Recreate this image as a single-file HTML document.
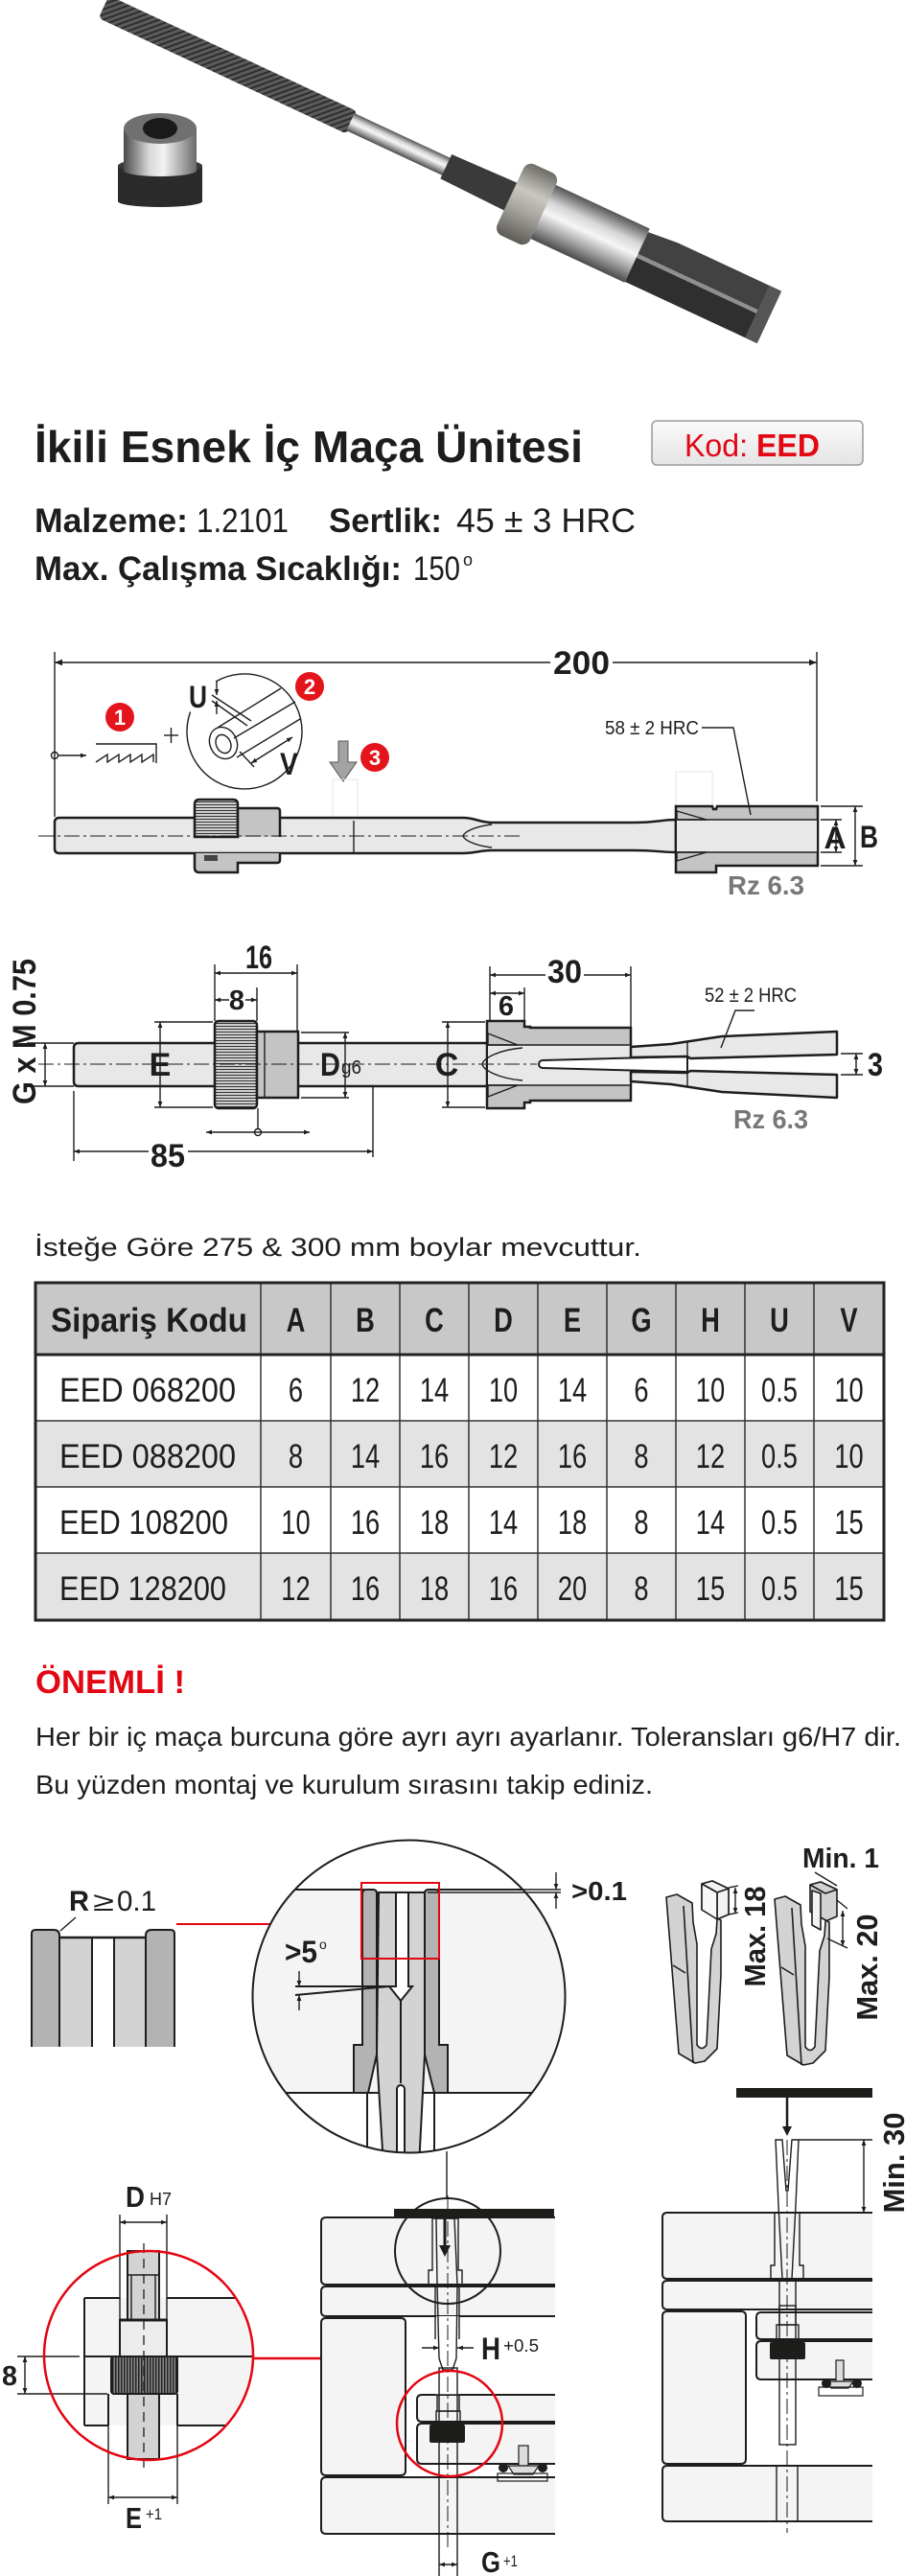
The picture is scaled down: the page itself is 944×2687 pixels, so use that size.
<!DOCTYPE html>
<html><head><meta charset="utf-8">
<style>
html,body{margin:0;padding:0;background:#fff;}
svg{display:block;}
text{font-family:"Liberation Sans","DejaVu Sans",sans-serif;fill:#1d1d1b;}
.t{stroke:#1d1d1b;stroke-width:1.4;fill:none}
.k{stroke:#1d1d1b;stroke-width:2.5}
.m{stroke:#1d1d1b;stroke-width:2}
.c{stroke:#1d1d1b;stroke-width:1;fill:none;stroke-dasharray:16 4 3 4}
.b{font-weight:700}
</style></head><body>
<svg width="944" height="2687" viewBox="0 0 944 2687" xmlns="http://www.w3.org/2000/svg">
<defs>
<marker id="a" viewBox="0 0 10 10" refX="10" refY="5" markerWidth="8" markerHeight="8" markerUnits="userSpaceOnUse" orient="auto-start-reverse"><path d="M0,1 L10,5 L0,9 z" fill="#1d1d1b"/></marker>
<marker id="as" viewBox="0 0 10 10" refX="10" refY="5" markerWidth="6" markerHeight="6" markerUnits="userSpaceOnUse" orient="auto-start-reverse"><path d="M0,1 L10,5 L0,9 z" fill="#1d1d1b"/></marker>
<pattern id="pk" width="5" height="5" patternUnits="userSpaceOnUse" patternTransform="rotate(45)"><rect width="5" height="5" fill="#5c5c5c"/><rect width="2" height="5" fill="#2e2e2e"/></pattern>
<pattern id="kh" width="4" height="3" patternUnits="userSpaceOnUse"><rect width="4" height="3" fill="#cfcfcf"/><rect y="2" width="4" height="1" fill="#333"/></pattern>
<pattern id="kv" width="3" height="4" patternUnits="userSpaceOnUse"><rect width="3" height="4" fill="#8a8a8a"/><rect x="0" width="1.5" height="4" fill="#222"/></pattern>
<linearGradient id="gs" x1="0" y1="0" x2="0" y2="1"><stop offset="0" stop-color="#555"/><stop offset="0.3" stop-color="#d6d6d6"/><stop offset="0.5" stop-color="#f6f6f6"/><stop offset="0.78" stop-color="#9a9a9a"/><stop offset="1" stop-color="#4a4a4a"/></linearGradient>
<linearGradient id="gr" x1="0" y1="0" x2="0" y2="1"><stop offset="0" stop-color="#6d6b66"/><stop offset="0.35" stop-color="#c9c7c0"/><stop offset="0.6" stop-color="#a8a69f"/><stop offset="1" stop-color="#5d5b57"/></linearGradient>
<linearGradient id="gn" x1="0" y1="0" x2="1" y2="0"><stop offset="0" stop-color="#4a4a4a"/><stop offset="0.35" stop-color="#d8d8d8"/><stop offset="0.55" stop-color="#f2f2f2"/><stop offset="1" stop-color="#6a6a6a"/></linearGradient>
<linearGradient id="kg" x1="0" y1="0" x2="0" y2="1"><stop offset="0" stop-color="#fbfbfb"/><stop offset="1" stop-color="#e4e4e4"/></linearGradient>
<clipPath id="cb"><circle cx="426.5" cy="2082.5" r="163"/></clipPath>
<clipPath id="cr"><circle cx="155" cy="2457" r="109"/></clipPath>
</defs>
<rect width="944" height="2687" fill="#fff"/>

<!-- ===== PHOTO ===== -->
<g transform="translate(110,8) rotate(25)">
 <rect x="-2" y="-13" width="286" height="26" rx="5" fill="url(#pk)"/>
 <rect x="282" y="-10" width="112" height="20" fill="url(#gs)"/>
 <path d="M392 -14 L470 -16 L470 16 L392 14 Z" fill="#3a3a3a"/>
 <rect x="500" y="-31" width="112" height="62" fill="url(#gs)"/>
 <rect x="466" y="-41" width="38" height="82" rx="9" fill="url(#gr)"/>
 <path d="M612 -27 L645 -30 L764 -30 L764 -2 L612 -2 Z" fill="#424242"/>
 <path d="M612 2 L764 2 L764 30 L612 30 Z" fill="#2f2f2f"/>
 <rect x="612" y="-2" width="152" height="4" fill="#8f8f8f"/>
 <rect x="750" y="-30" width="14" height="60" fill="#565656"/>
</g>
<!-- nut -->
<rect x="123" y="172" width="88" height="38" fill="#2b2b2b"/>
<ellipse cx="167" cy="210" rx="44" ry="6" fill="#2b2b2b"/>
<ellipse cx="167" cy="173" rx="44" ry="8" fill="#3a3a3a"/>
<rect x="129" y="134" width="76" height="44" fill="url(#gn)"/>
<ellipse cx="167" cy="178" rx="38" ry="6" fill="url(#gn)"/>
<ellipse cx="167" cy="134" rx="38" ry="16" fill="#707070"/>
<ellipse cx="167" cy="134" rx="18" ry="11" fill="#1a1a1a"/>

<!-- ===== TITLE ===== -->
<text x="36" y="482" font-size="46" class="b" textLength="572" lengthAdjust="spacingAndGlyphs">İkili Esnek İç Maça Ünitesi</text>
<rect x="680" y="439" width="220" height="46" rx="5" fill="url(#kg)" stroke="#9a9a9a" stroke-width="1.5"/>
<text x="714" y="476" font-size="33" style="fill:#e30613" textLength="66" lengthAdjust="spacingAndGlyphs">Kod:</text>
<text x="789" y="476" font-size="33" class="b" style="fill:#e30613" textLength="66" lengthAdjust="spacingAndGlyphs">EED</text>

<text x="36" y="555" font-size="35" class="b" textLength="160" lengthAdjust="spacingAndGlyphs">Malzeme:</text>
<text x="205" y="555" font-size="35" textLength="96" lengthAdjust="spacingAndGlyphs">1.2101</text>
<text x="343" y="555" font-size="35" class="b" textLength="118" lengthAdjust="spacingAndGlyphs">Sertlik:</text>
<text x="476" y="555" font-size="35" textLength="187" lengthAdjust="spacingAndGlyphs">45 ± 3 HRC</text>
<text x="36" y="605" font-size="35" class="b" textLength="383" lengthAdjust="spacingAndGlyphs">Max. Çalışma Sıcaklığı:</text>
<text x="431" y="605" font-size="35" textLength="49" lengthAdjust="spacingAndGlyphs">150</text>
<text x="483" y="590" font-size="18">o</text>

<!-- ===== DRAWING 1 ===== -->
<line x1="57" y1="680" x2="57" y2="852" class="t"/>
<line x1="852" y1="680" x2="852" y2="836" class="t"/>
<line x1="57" y1="691" x2="574" y2="691" class="t" marker-start="url(#a)"/>
<line x1="639" y1="691" x2="852" y2="691" class="t" marker-end="url(#a)"/>
<text x="577" y="703" font-size="34" class="b" textLength="59" lengthAdjust="spacingAndGlyphs">200</text>

<circle cx="57" cy="788" r="3.5" fill="#fff" class="t"/>
<line x1="61" y1="788" x2="90" y2="788" class="t" marker-end="url(#as)"/>
<polyline points="100,776 163,776 163,796" class="t"/>
<polyline points="100,795 112,787 112,795 124,787 124,795 136,787 136,795 148,787 148,795 160,787 160,795" class="t"/>
<line x1="171" y1="767" x2="186" y2="767" class="t"/><line x1="178.5" y1="759" x2="178.5" y2="775" class="t"/>
<circle cx="125" cy="748" r="15" fill="#e3141b"/><text x="125" y="756" font-size="22" class="b" text-anchor="middle" style="fill:#fff">1</text>
<circle cx="323" cy="716" r="15" fill="#e3141b"/><text x="323" y="724" font-size="22" class="b" text-anchor="middle" style="fill:#fff">2</text>
<circle cx="391" cy="790" r="15" fill="#e3141b"/><text x="391" y="798" font-size="22" class="b" text-anchor="middle" style="fill:#fff">3</text>

<path d="M225 711 A60 60 0 1 1 198.6 742.5" class="t" stroke-width="1.2"/>
<line x1="227" y1="759" x2="293" y2="718" class="t" stroke-width="1.2"/>
<line x1="247" y1="790" x2="313" y2="750" class="t" stroke-width="1.2"/>
<line x1="244" y1="770" x2="308" y2="732" class="t" stroke-width="1.2"/>
<line x1="221" y1="725" x2="262" y2="752" class="t" stroke-width="1.2"/>
<line x1="221" y1="731" x2="258" y2="757" class="t" stroke-width="1.2"/>
<ellipse cx="233" cy="775" rx="14" ry="17" transform="rotate(-25 233 775)" fill="#fff" class="t" stroke-width="1.2"/>
<ellipse cx="233" cy="776" rx="7.5" ry="10" transform="rotate(-25 233 776)" fill="#fff" class="t" stroke-width="1.2"/>
<line x1="226" y1="711" x2="226" y2="725" class="t" stroke-width="1" marker-end="url(#as)"/>
<line x1="226" y1="745" x2="226" y2="731" class="t" stroke-width="1" marker-end="url(#as)"/>
<line x1="262" y1="796" x2="305" y2="769" class="t" stroke-width="1" marker-start="url(#as)" marker-end="url(#as)"/>
<line x1="250" y1="784" x2="265" y2="800" class="t" stroke-width="1"/>
<text x="197" y="738" font-size="32" class="b" textLength="19" lengthAdjust="spacingAndGlyphs">U</text>
<text x="292" y="808" font-size="32" class="b" textLength="19" lengthAdjust="spacingAndGlyphs">V</text>

<path d="M353 773 L363 773 L363 795 L372 795 L358 815 L344 795 L353 795 Z" fill="#a3a3a3" stroke="#555" stroke-width="1"/>
<rect x="347" y="813" width="26" height="42" fill="none" stroke="#dfe5ec" stroke-width="1"/>
<rect x="705" y="805" width="38" height="36" fill="none" stroke="#dfe5ec" stroke-width="1"/>

<path d="M62 853 L483 853 C496 853 500 858 513 858 L660 858 C685 858 690 855 705 855 L705 889 C690 889 685 887 660 887 L513 887 C500 887 496 890 483 890 L62 890 Q57 890 57 885 L57 858 Q57 853 62 853 Z" fill="#e8e8e8" class="k"/>
<path d="M513 860 C495 862 484 868 483 872 C484 876 495 882 513 884" class="t"/>
<line x1="369" y1="856" x2="369" y2="890" class="t"/>
<path d="M705 841 L743 841 L744 844 L747 844 L748 841 L853 841 L853 903 L747 903 L747 910 L705 910 Z" fill="#c4c4c4" class="k"/>
<rect x="706" y="855" width="146" height="34" fill="#e8e8e8"/>
<line x1="705" y1="855" x2="853" y2="855" class="t"/><line x1="705" y1="889" x2="853" y2="889" class="t"/>
<polygon points="706,846 737,855 706,855" fill="#fff" class="t" stroke-width="1.1"/>
<polygon points="706,898 737,889 706,889" fill="#fff" class="t" stroke-width="1.1"/>
<path d="M203 873 L203 839 Q203 834 208 834 L243 834 Q248 834 248 839 L248 873 Z" fill="url(#kh)" class="k"/>
<path d="M248 873 L248 843 L289 843 Q292 843 292 846 L292 873" fill="#c4c4c4" class="k"/>
<path d="M203 890 L203 905 Q203 910 208 910 L248 910 L248 900 L289 900 Q292 900 292 897 L292 890" fill="#c4c4c4" class="k"/>
<rect x="213" y="892" width="14" height="6" fill="#444"/>
<line x1="40" y1="872" x2="543" y2="872" class="c"/>

<polyline points="732,759 765,759 783,850" class="t" stroke-width="1.2"/>
<text x="631" y="766" font-size="20" textLength="98" lengthAdjust="spacingAndGlyphs">58 ± 2 HRC</text>
<line x1="856" y1="855" x2="878" y2="855" class="t"/><line x1="856" y1="889" x2="878" y2="889" class="t"/>
<line x1="872" y1="855" x2="872" y2="889" class="t" marker-start="url(#as)" marker-end="url(#as)"/>
<line x1="856" y1="841" x2="900" y2="841" class="t"/><line x1="856" y1="903" x2="900" y2="903" class="t"/>
<line x1="892" y1="841" x2="892" y2="903" class="t" marker-start="url(#as)" marker-end="url(#as)"/>
<text x="871" y="885" font-size="32" class="b" text-anchor="middle">A</text>
<text x="897" y="884" font-size="32" class="b" textLength="19" lengthAdjust="spacingAndGlyphs">B</text>
<text x="759" y="933" font-size="28" class="b" style="fill:#777" textLength="80" lengthAdjust="spacingAndGlyphs">Rz 6.3</text>

<!-- ===== DRAWING 2 ===== -->
<text transform="translate(37,1076) rotate(-90)" font-size="34" class="b" text-anchor="middle" textLength="152" lengthAdjust="spacingAndGlyphs">G x M 0.75</text>
<line x1="28" y1="1088" x2="77" y2="1088" class="t"/><line x1="28" y1="1133" x2="77" y2="1133" class="t"/>
<line x1="47" y1="1088" x2="47" y2="1133" class="t" marker-start="url(#as)" marker-end="url(#as)"/>

<path d="M82 1088 L511 1088 L511 1133 L82 1133 Q77 1133 77 1128 L77 1093 Q77 1088 82 1088 Z" fill="#e8e8e8" class="k"/>
<rect x="224" y="1065" width="44" height="91" rx="4" fill="url(#kh)" class="k"/>
<rect x="268" y="1076" width="43" height="69" fill="#c4c4c4" class="k"/>
<line x1="276" y1="1077" x2="276" y2="1144" class="t" stroke-width="1"/>
<path d="M508 1065 L547 1065 L547 1071 L553 1071 L553 1072 L658 1072 L658 1148 L553 1148 L553 1150 L547 1150 L547 1156 L508 1156 Z" fill="#c4c4c4" class="k"/>
<rect x="509" y="1090" width="148" height="42" fill="#e8e8e8"/>
<line x1="508" y1="1090" x2="658" y2="1090" class="t"/><line x1="508" y1="1132" x2="658" y2="1132" class="t"/>
<polygon points="509,1078 540,1090 509,1090" fill="#fff" class="t" stroke-width="1.1"/>
<polygon points="509,1144 540,1132 509,1132" fill="#fff" class="t" stroke-width="1.1"/>
<path d="M545 1093 C520 1095 504 1104 503 1110 C504 1116 520 1125 545 1127" class="t"/>
<path d="M717 1102 L566 1106 A4 4 0 0 0 566 1114 L717 1118 Z" fill="#fff" class="m"/>
<polygon points="658,1092 700,1089 753,1081 873,1076 873,1100 720,1104 717,1102 658,1103" fill="#e8e8e8" class="k" stroke-linejoin="round"/>
<polygon points="658,1128 700,1131 753,1139 873,1145 873,1121 720,1117 717,1119 658,1118" fill="#e8e8e8" class="k" stroke-linejoin="round"/>
<line x1="717" y1="1087" x2="717" y2="1102" class="t" stroke-width="1"/><line x1="717" y1="1118" x2="717" y2="1133" class="t" stroke-width="1"/>
<line x1="40" y1="1110" x2="560" y2="1110" class="c"/>

<line x1="161" y1="1066" x2="222" y2="1066" class="t"/><line x1="161" y1="1155" x2="222" y2="1155" class="t"/>
<line x1="167" y1="1066" x2="167" y2="1155" class="t" marker-start="url(#as)" marker-end="url(#as)"/>
<text x="167" y="1122" font-size="34" class="b" text-anchor="middle">E</text>
<line x1="224" y1="1006" x2="224" y2="1065" class="t"/><line x1="310" y1="1006" x2="310" y2="1076" class="t"/>
<line x1="224" y1="1015" x2="310" y2="1015" class="t" marker-start="url(#as)" marker-end="url(#as)"/>
<text x="256" y="1010" font-size="34" class="b" textLength="28" lengthAdjust="spacingAndGlyphs">16</text>
<line x1="268" y1="1030" x2="268" y2="1065" class="t"/>
<line x1="224" y1="1043" x2="268" y2="1043" class="t" marker-start="url(#as)" marker-end="url(#as)"/>
<rect x="239" y="1032" width="17" height="22" fill="#fff"/>
<text x="247" y="1053" font-size="29" class="b" text-anchor="middle">8</text>
<line x1="314" y1="1077" x2="364" y2="1077" class="t"/><line x1="314" y1="1145" x2="364" y2="1145" class="t"/>
<line x1="360" y1="1077" x2="360" y2="1145" class="t" marker-start="url(#as)" marker-end="url(#as)"/>
<text x="334" y="1122" font-size="34" class="b" textLength="21" lengthAdjust="spacingAndGlyphs">D</text>
<text x="356" y="1120" font-size="20" textLength="21" lengthAdjust="spacingAndGlyphs">g6</text>
<line x1="461" y1="1066" x2="506" y2="1066" class="t"/><line x1="461" y1="1155" x2="506" y2="1155" class="t"/>
<line x1="467" y1="1066" x2="467" y2="1155" class="t" marker-start="url(#as)" marker-end="url(#as)"/>
<text x="466" y="1122" font-size="34" class="b" text-anchor="middle">C</text>
<line x1="511" y1="1008" x2="511" y2="1065" class="t"/><line x1="658" y1="1008" x2="658" y2="1072" class="t"/>
<line x1="511" y1="1017" x2="658" y2="1017" class="t" marker-start="url(#as)" marker-end="url(#as)"/>
<rect x="569" y="1002" width="40" height="26" fill="#fff"/>
<text x="571" y="1025" font-size="34" class="b" textLength="36" lengthAdjust="spacingAndGlyphs">30</text>
<line x1="547" y1="1030" x2="547" y2="1065" class="t"/>
<line x1="511" y1="1036" x2="547" y2="1036" class="t" marker-start="url(#as)" marker-end="url(#as)"/>
<text x="528" y="1059" font-size="29" class="b" text-anchor="middle">6</text>
<polyline points="787,1054 767,1054 752,1093" class="t" stroke-width="1.2"/>
<text x="735" y="1045" font-size="21" textLength="96" lengthAdjust="spacingAndGlyphs">52 ± 2 HRC</text>
<line x1="877" y1="1099" x2="900" y2="1099" class="t"/><line x1="877" y1="1121" x2="900" y2="1121" class="t"/>
<line x1="893" y1="1099" x2="893" y2="1121" class="t" marker-start="url(#as)" marker-end="url(#as)"/>
<text x="905" y="1122" font-size="34" class="b" textLength="16" lengthAdjust="spacingAndGlyphs">3</text>
<line x1="77" y1="1138" x2="77" y2="1211" class="t"/><line x1="389" y1="1133" x2="389" y2="1207" class="t"/>
<line x1="77" y1="1201" x2="389" y2="1201" class="t" marker-start="url(#as)" marker-end="url(#as)"/>
<rect x="155" y="1190" width="41" height="30" fill="#fff"/>
<text x="157" y="1217" font-size="34" class="b" textLength="36" lengthAdjust="spacingAndGlyphs">85</text>
<line x1="269" y1="1156" x2="269" y2="1178" class="t"/>
<line x1="215" y1="1181" x2="323" y2="1181" class="t" marker-start="url(#as)" marker-end="url(#as)"/>
<circle cx="269" cy="1181" r="3.5" fill="#fff" class="t"/>
<text x="765" y="1177" font-size="28" class="b" style="fill:#777" textLength="78" lengthAdjust="spacingAndGlyphs">Rz 6.3</text>

<!-- ===== NOTE + TABLE ===== -->
<text x="36" y="1310" font-size="27" textLength="633" lengthAdjust="spacingAndGlyphs">İsteğe Göre 275 &amp; 300 mm boylar mevcuttur.</text>
<rect x="37" y="1338" width="885" height="75" fill="#c8c8c8"/>
<rect x="37" y="1482" width="885" height="69" fill="#e3e3e3"/>
<rect x="37" y="1620" width="885" height="70" fill="#e3e3e3"/>
<g stroke="#333" stroke-width="1.5">
<line x1="37" y1="1482" x2="922" y2="1482"/><line x1="37" y1="1551" x2="922" y2="1551"/><line x1="37" y1="1620" x2="922" y2="1620"/>
<line x1="272" y1="1338" x2="272" y2="1690"/><line x1="345" y1="1338" x2="345" y2="1690"/><line x1="417" y1="1338" x2="417" y2="1690"/>
<line x1="489" y1="1338" x2="489" y2="1690"/><line x1="561" y1="1338" x2="561" y2="1690"/><line x1="633" y1="1338" x2="633" y2="1690"/>
<line x1="705" y1="1338" x2="705" y2="1690"/><line x1="777" y1="1338" x2="777" y2="1690"/><line x1="849" y1="1338" x2="849" y2="1690"/>
</g>
<line x1="37" y1="1413" x2="922" y2="1413" stroke="#222" stroke-width="3"/>
<rect x="37" y="1338" width="885" height="352" fill="none" stroke="#222" stroke-width="3"/>
<text x="53" y="1389" font-size="35" class="b" textLength="205" lengthAdjust="spacingAndGlyphs">Sipariş Kodu</text>
<text x="62" y="1462" font-size="35" textLength="184" lengthAdjust="spacingAndGlyphs">EED 068200</text>
<text x="62" y="1531" font-size="35" textLength="184" lengthAdjust="spacingAndGlyphs">EED 088200</text>
<text x="62" y="1600" font-size="35" textLength="176" lengthAdjust="spacingAndGlyphs">EED 108200</text>
<text x="62" y="1669" font-size="35" textLength="174" lengthAdjust="spacingAndGlyphs">EED 128200</text>
<g transform="scale(0.78,1)" font-size="35" text-anchor="middle">
<g class="b">
<text x="395.5" y="1389" class="b">A</text><text x="488.5" y="1389" class="b">B</text><text x="580.8" y="1389" class="b">C</text><text x="673.1" y="1389" class="b">D</text><text x="765.4" y="1389" class="b">E</text><text x="857.7" y="1389" class="b">G</text><text x="950" y="1389" class="b">H</text><text x="1042.3" y="1389" class="b">U</text><text x="1135.3" y="1389" class="b">V</text>
</g>
<text x="395.5" y="1462">6</text><text x="488.5" y="1462">12</text><text x="580.8" y="1462">14</text><text x="673.1" y="1462">10</text><text x="765.4" y="1462">14</text><text x="857.7" y="1462">6</text><text x="950" y="1462">10</text><text x="1042.3" y="1462">0.5</text><text x="1135.3" y="1462">10</text>
<text x="395.5" y="1531">8</text><text x="488.5" y="1531">14</text><text x="580.8" y="1531">16</text><text x="673.1" y="1531">12</text><text x="765.4" y="1531">16</text><text x="857.7" y="1531">8</text><text x="950" y="1531">12</text><text x="1042.3" y="1531">0.5</text><text x="1135.3" y="1531">10</text>
<text x="395.5" y="1600">10</text><text x="488.5" y="1600">16</text><text x="580.8" y="1600">18</text><text x="673.1" y="1600">14</text><text x="765.4" y="1600">18</text><text x="857.7" y="1600">8</text><text x="950" y="1600">14</text><text x="1042.3" y="1600">0.5</text><text x="1135.3" y="1600">15</text>
<text x="395.5" y="1669">12</text><text x="488.5" y="1669">16</text><text x="580.8" y="1669">18</text><text x="673.1" y="1669">16</text><text x="765.4" y="1669">20</text><text x="857.7" y="1669">8</text><text x="950" y="1669">15</text><text x="1042.3" y="1669">0.5</text><text x="1135.3" y="1669">15</text>
</g>

<text x="37" y="1766" font-size="34" class="b" style="fill:#e30613" textLength="156" lengthAdjust="spacingAndGlyphs">ÖNEMLİ !</text>
<text x="37" y="1821" font-size="28" textLength="903" lengthAdjust="spacingAndGlyphs">Her bir iç maça burcuna göre ayrı ayrı ayarlanır. Toleransları g6/H7 dir.</text>
<text x="37" y="1871" font-size="28" textLength="644" lengthAdjust="spacingAndGlyphs">Bu yüzden montaj ve kurulum sırasını takip ediniz.</text>

<!-- ===== BOTTOM: R detail ===== -->
<text x="72" y="1993" font-size="30" class="b" textLength="21" lengthAdjust="spacingAndGlyphs">R</text>
<text x="97" y="1993" font-size="28" textLength="22" lengthAdjust="spacingAndGlyphs">≥</text>
<text x="122" y="1993" font-size="30" textLength="41" lengthAdjust="spacingAndGlyphs">0.1</text>
<line x1="79" y1="2000" x2="63" y2="2014" class="t" stroke-width="1.2"/>
<path d="M33 2135 L33 2017 Q33 2013 37 2013 L56 2013 Q62 2013 62 2019 L62 2135" fill="#b3b3b3" class="m"/>
<path d="M62 2135 L62 2021 L96 2021 L96 2135" fill="#d3d3d3" class="m"/>
<path d="M119 2135 L119 2021 L152 2021 L152 2135" fill="#d3d3d3" class="m"/>
<path d="M182 2135 L182 2017 Q182 2013 178 2013 L158 2013 Q152 2013 152 2019 L152 2135" fill="#b3b3b3" class="m"/>
<line x1="62" y1="2021" x2="152" y2="2021" stroke="#1d1d1b" stroke-width="2.5"/>
<line x1="184" y1="2007" x2="377" y2="2007" stroke="#e30613" stroke-width="2"/>

<!-- big circle -->
<g clip-path="url(#cb)">
 <rect x="250" y="1971" width="360" height="212" fill="#f4f4f4"/>
 <line x1="250" y1="1971" x2="380" y2="1971" class="m"/>
 <line x1="456" y1="1971" x2="610" y2="1971" class="m"/>
 <line x1="250" y1="2183" x2="610" y2="2183" class="m"/>
 <line x1="383" y1="2183" x2="383" y2="2260" class="m"/>
 <line x1="453" y1="2183" x2="453" y2="2260" class="m"/>
 <polygon points="395,1974 443,1974 443,2143 437,2260 400,2260 393,2143" fill="#d3d3d3" class="m"/>
 <path d="M378 2133 L378 1975 Q378 1971 382 1971 L389 1971 Q393 1971 393 1975 L393 2143 L384 2183 L369 2183 L369 2133 Z" fill="#b3b3b3" class="m"/>
 <path d="M458 2133 L458 1975 Q458 1971 454 1971 L447 1971 Q443 1971 443 1975 L443 2143 L453 2183 L467 2183 L467 2133 Z" fill="#b3b3b3" class="m"/>
 <polygon points="413,1974 426,1974 426,2072 430,2072 418,2087 406,2072 413,2072" fill="#fff" class="m"/>
 <line x1="418" y1="2087" x2="418" y2="2173" class="m"/>
 <path d="M414 2260 L414 2179 A4 4 0 0 1 422 2179 L422 2260 Z" fill="#fff" class="m"/>
</g>
<line x1="546" y1="1971" x2="585" y2="1971" class="t"/>
<line x1="446" y1="1974" x2="585" y2="1974" class="t"/>
<circle cx="426.5" cy="2082.5" r="163" fill="none" class="m"/>
<line x1="580" y1="1953" x2="580" y2="1971" class="t" stroke-width="1" marker-end="url(#as)"/>
<line x1="580" y1="1991" x2="580" y2="1974" class="t" stroke-width="1" marker-end="url(#as)"/>
<text x="596" y="1982" font-size="28" class="b" textLength="58" lengthAdjust="spacingAndGlyphs">&gt;0.1</text>
<rect x="377" y="1964" width="81" height="79" fill="none" stroke="#e30613" stroke-width="2"/>
<text x="297" y="2047" font-size="32" class="b" textLength="34" lengthAdjust="spacingAndGlyphs">&gt;5</text>
<text x="333" y="2033" font-size="14">o</text>
<line x1="308" y1="2072" x2="406" y2="2072" class="m" stroke-width="1.6"/>
<line x1="308" y1="2081" x2="406" y2="2072" class="m" stroke-width="1.6"/>
<line x1="312" y1="2056" x2="312" y2="2072" class="t" stroke-width="1" marker-end="url(#as)"/>
<line x1="312" y1="2097" x2="312" y2="2081" class="t" stroke-width="1" marker-end="url(#as)"/>
<line x1="466" y1="2244" x2="466" y2="2293" class="t"/>

<!-- forks -->
<g stroke="#1d1d1b" stroke-width="1.6" stroke-linejoin="round">
 <path d="M695 1979 L706 1976 L722 1985 L723 2005 L727 2028 L727 2133 Q732 2140 737 2133 L742 2033 L747 2017 L748 2002 L760 1997 L760 1970 L743 1962 L732 1965 L732 1992 L752 2003 L752 2060 L748 2137 L735 2150 L725 2152 L708 2142 Z" fill="#d3d3d3"/>
 <path d="M732 1965 L743 1962 L760 1970 L748 1974 Z" fill="#f2f2f2"/>
 <path d="M748 1974 L760 1970 L760 1997 L748 2002 Z" fill="#f2f2f2"/>
 <path d="M732 1965 L748 1974 L748 2002 L732 1992 Z" fill="#f7f7f7"/>
 <line x1="713" y1="1988" x2="723" y2="2152" fill="none"/>
 <line x1="702" y1="2050" x2="715" y2="2058" fill="none"/>
 <path d="M808 1981 L819 1978 L835 1987 L836 2007 L840 2030 L840 2135 Q845 2142 850 2135 L855 2035 L860 2019 L861 2004 L873 1999 L873 1971 L856 1963 L845 1966 L845 1994 L865 2005 L865 2062 L861 2139 L848 2152 L838 2154 L821 2144 Z" fill="#d3d3d3"/>
 <path d="M845 1966 L856 1963 L873 1971 L861 1975 Z" fill="#d3d3d3"/>
 <path d="M847 1972 L856 1975 L856 2013 L847 2008 Z" fill="#f2f2f2"/>
 <line x1="826" y1="1990" x2="836" y2="2154" fill="none"/>
 <line x1="815" y1="2052" x2="828" y2="2060" fill="none"/>
</g>
<line x1="760" y1="1969" x2="770" y2="1967" class="t" stroke-width="1"/>
<line x1="760" y1="1997" x2="770" y2="1995" class="t" stroke-width="1"/>
<line x1="767" y1="1969" x2="767" y2="1996" class="t" stroke-width="1" marker-start="url(#as)" marker-end="url(#as)"/>
<line x1="873" y1="1982" x2="884" y2="1991" class="t" stroke-width="1"/>
<line x1="863" y1="2022" x2="884" y2="2032" class="t" stroke-width="1"/>
<line x1="879" y1="1993" x2="879" y2="2030" class="t" stroke-width="1" marker-start="url(#as)" marker-end="url(#as)"/>
<line x1="850" y1="1953" x2="873" y2="1967" class="t" stroke-width="1"/>
<text x="837" y="1948" font-size="29" class="b" textLength="80" lengthAdjust="spacingAndGlyphs">Min. 1</text>
<text transform="translate(798,2020) rotate(-90)" font-size="31" class="b" text-anchor="middle" textLength="105" lengthAdjust="spacingAndGlyphs">Max. 18</text>
<text transform="translate(915,2052) rotate(-90)" font-size="31" class="b" text-anchor="middle" textLength="111" lengthAdjust="spacingAndGlyphs">Max. 20</text>

<!-- ===== Bottom-left red detail ===== -->
<g clip-path="url(#cr)">
 <rect x="88" y="2397" width="190" height="133" fill="#f4f4f4"/>
 <line x1="88" y1="2397" x2="88" y2="2530" class="m"/>
 <line x1="88" y1="2397" x2="125" y2="2397" class="m"/>
 <line x1="174" y1="2397" x2="280" y2="2397" class="m"/>
 <line x1="88" y1="2530" x2="113" y2="2530" class="m"/>
 <line x1="185" y1="2530" x2="280" y2="2530" class="m"/>
 <line x1="88" y1="2458" x2="280" y2="2458" class="m"/>
 <line x1="113" y1="2497" x2="113" y2="2530" class="m"/>
 <line x1="185" y1="2497" x2="185" y2="2530" class="m"/>
</g>
<line x1="18" y1="2458" x2="83" y2="2458" class="t"/>
<line x1="18" y1="2497" x2="112" y2="2497" class="t"/>
<line x1="26" y1="2458" x2="26" y2="2497" class="t" marker-start="url(#as)" marker-end="url(#as)"/>
<text x="2" y="2488" font-size="29" class="b" textLength="16" lengthAdjust="spacingAndGlyphs">8</text>
<line x1="125" y1="2310" x2="125" y2="2420" class="t"/>
<line x1="174" y1="2310" x2="174" y2="2420" class="t"/>
<line x1="125" y1="2318" x2="174" y2="2318" class="t" marker-start="url(#as)" marker-end="url(#as)"/>
<text x="131" y="2302" font-size="31" class="b" textLength="20" lengthAdjust="spacingAndGlyphs">D</text>
<text x="156" y="2300" font-size="18" textLength="23" lengthAdjust="spacingAndGlyphs">H7</text>
<rect x="133" y="2348" width="33" height="72" fill="#d3d3d3" class="m"/>
<line x1="133" y1="2373" x2="166" y2="2373" class="t"/>
<line x1="137" y1="2373" x2="137" y2="2420" class="t" stroke-width="1"/><line x1="162" y1="2373" x2="162" y2="2420" class="t" stroke-width="1"/>
<rect x="125" y="2420" width="49" height="38" fill="#ececec" class="m"/>
<line x1="125" y1="2420" x2="174" y2="2420" stroke="#1d1d1b" stroke-width="3"/>
<rect x="116" y="2458" width="69" height="39" rx="3" fill="url(#kv)" class="m"/>
<rect x="133" y="2497" width="33" height="68" fill="#d3d3d3" class="m"/>
<line x1="113" y1="2502" x2="113" y2="2612" class="t"/>
<line x1="185" y1="2502" x2="185" y2="2612" class="t"/>
<line x1="113" y1="2605" x2="185" y2="2605" class="t" marker-start="url(#as)" marker-end="url(#as)"/>
<text x="131" y="2637" font-size="31" class="b" textLength="17" lengthAdjust="spacingAndGlyphs">E</text>
<text x="152" y="2628" font-size="17" textLength="17" lengthAdjust="spacingAndGlyphs">+1</text>
<line x1="150" y1="2340" x2="150" y2="2580" stroke="#1d1d1b" stroke-width="1.3" stroke-dasharray="10 6"/>
<circle cx="155" cy="2457" r="109" fill="none" stroke="#e30613" stroke-width="2.5"/>
<polyline points="264,2460 397,2460 397,2535 415,2535" fill="none" stroke="#e30613" stroke-width="2.5"/>

<!-- ===== Center assembly ===== -->
<g fill="#f4f4f4" stroke="#1d1d1b" stroke-width="2">
 <path d="M579 2313 L340 2313 Q335 2313 335 2318 L335 2378 Q335 2383 340 2383 L579 2383"/>
 <path d="M579 2385 L340 2385 Q335 2385 335 2390 L335 2411 Q335 2416 340 2416 L579 2416"/>
 <path d="M340 2418 L418 2418 Q423 2418 423 2423 L423 2577 Q423 2582 418 2582 L340 2582 Q335 2582 335 2577 L335 2423 Q335 2418 340 2418 Z"/>
 <path d="M579 2498 L440 2498 Q435 2498 435 2503 L435 2521 Q435 2526 440 2526 L579 2526"/>
 <path d="M579 2528 L440 2528 Q435 2528 435 2533 L435 2565 Q435 2570 440 2570 L579 2570"/>
 <path d="M579 2584 L340 2584 Q335 2584 335 2589 L335 2638 Q335 2643 340 2643 L579 2643"/>
</g>
<rect x="411" y="2304" width="167" height="10" fill="#1d1d1b"/>
<rect x="455" y="2416" width="24" height="82" fill="#fff"/>
<line x1="454" y1="2383" x2="454" y2="2440" class="t"/><line x1="479" y1="2383" x2="479" y2="2440" class="t"/>
<path d="M451 2314 L478 2314 L478 2368 L482 2368 L482 2383 L447 2383 L447 2368 L451 2368 Z" fill="#b3b3b3" class="t"/>
<polygon points="455,2314 474,2314 477,2383 476,2460 472,2472 462,2472 458,2460 456,2383" fill="#d3d3d3" class="t"/>
<line x1="464" y1="2304" x2="464" y2="2345" stroke="#1d1d1b" stroke-width="3"/>
<polygon points="458,2342 470,2342 464,2354" fill="#1d1d1b"/>
<rect x="458" y="2470" width="19" height="173" fill="#d3d3d3" class="t"/>
<rect x="456" y="2498" width="23" height="17" fill="#c4c4c4" class="t"/>
<rect x="455" y="2515" width="25" height="14" fill="#eee" class="t"/>
<rect x="448" y="2529" width="37" height="19" rx="2" fill="#1d1d1b"/>
<line x1="467" y1="2290" x2="467" y2="2660" class="c"/>
<line x1="440" y1="2449" x2="458" y2="2449" class="t" marker-end="url(#as)"/>
<line x1="494" y1="2449" x2="477" y2="2449" class="t" marker-end="url(#as)"/>
<text x="502" y="2461" font-size="32" class="b" textLength="20" lengthAdjust="spacingAndGlyphs">H</text>
<text x="525" y="2453" font-size="18" textLength="37" lengthAdjust="spacingAndGlyphs">+0.5</text>
<g stroke="#1d1d1b" stroke-width="1.2">
 <rect x="541" y="2551" width="10" height="21" fill="#ddd"/>
 <polygon points="530,2572 562,2572 556,2581 536,2581" fill="#ddd"/>
 <rect x="519" y="2580" width="52" height="8" fill="none"/>
</g>
<circle cx="525" cy="2574" r="5" fill="#1d1d1b"/><circle cx="566" cy="2574" r="5" fill="#1d1d1b"/>
<circle cx="467" cy="2348" r="55" fill="none" class="m"/>
<circle cx="469" cy="2528" r="55" fill="none" stroke="#e30613" stroke-width="2.5"/>
<line x1="458" y1="2643" x2="458" y2="2687" class="t"/><line x1="477" y1="2643" x2="477" y2="2687" class="t"/>
<line x1="458" y1="2675" x2="477" y2="2675" class="t" stroke-width="1" marker-start="url(#as)" marker-end="url(#as)"/>
<text x="502" y="2683" font-size="31" class="b" textLength="20" lengthAdjust="spacingAndGlyphs">G</text>
<text x="525" y="2677" font-size="17" textLength="15" lengthAdjust="spacingAndGlyphs">+1</text>

<!-- ===== Right assembly ===== -->
<g fill="#f4f4f4" stroke="#1d1d1b" stroke-width="2">
 <path d="M910 2308 L696 2308 Q691 2308 691 2313 L691 2372 Q691 2377 696 2377 L910 2377"/>
 <path d="M910 2379 L696 2379 Q691 2379 691 2384 L691 2404 Q691 2409 696 2409 L910 2409"/>
 <path d="M696 2411 L773 2411 Q778 2411 778 2416 L778 2565 Q778 2570 773 2570 L696 2570 Q691 2570 691 2565 L691 2416 Q691 2411 696 2411 Z"/>
 <path d="M910 2412 L794 2412 Q789 2412 789 2417 L789 2435 Q789 2440 794 2440 L910 2440"/>
 <path d="M910 2442 L794 2442 Q789 2442 789 2447 L789 2477 Q789 2482 794 2482 L910 2482"/>
 <path d="M910 2572 L696 2572 Q691 2572 691 2577 L691 2625 Q691 2630 696 2630 L910 2630"/>
</g>
<rect x="768" y="2178" width="142" height="10" fill="#1d1d1b"/>
<line x1="821" y1="2188" x2="821" y2="2220" stroke="#1d1d1b" stroke-width="2.5"/>
<polygon points="816,2218 826,2218 821,2228" fill="#1d1d1b"/>
<line x1="833" y1="2232" x2="910" y2="2232" class="t"/>
<line x1="901" y1="2232" x2="901" y2="2308" class="t" stroke-width="1" marker-start="url(#as)" marker-end="url(#as)"/>
<text transform="translate(943,2256) rotate(-90)" font-size="31" class="b" text-anchor="middle" textLength="105" lengthAdjust="spacingAndGlyphs">Min. 30</text>
<path d="M808 2308 L834 2308 L834 2363 L838 2363 L838 2377 L804 2377 L804 2363 L808 2363 Z" fill="#b3b3b3" class="t"/>
<polygon points="809,2232 816,2232 820,2285 822,2285 826,2232 833,2232 830,2300 826,2377 816,2377 812,2300" fill="#d3d3d3" class="t"/>
<rect x="813" y="2377" width="17" height="173" fill="#d3d3d3" class="t"/>
<rect x="813" y="2405" width="17" height="20" fill="#c4c4c4" class="t"/>
<rect x="810" y="2425" width="23" height="17" fill="#eee" class="t"/>
<rect x="803" y="2443" width="37" height="18" rx="2" fill="#1d1d1b"/>
<line x1="810" y1="2572" x2="810" y2="2630" class="t"/><line x1="832" y1="2572" x2="832" y2="2630" class="t"/>
<line x1="821" y1="2232" x2="821" y2="2642" class="c"/>
<g stroke="#1d1d1b" stroke-width="1.2">
 <rect x="872" y="2462" width="8" height="22" fill="#ddd"/>
 <polygon points="862,2484 890,2484 885,2491 867,2491" fill="#ddd"/>
 <rect x="854" y="2490" width="46" height="9" fill="none"/>
</g>
<circle cx="862" cy="2486" r="5" fill="#1d1d1b"/><circle cx="894" cy="2486" r="5" fill="#1d1d1b"/>
</svg>
</body></html>
